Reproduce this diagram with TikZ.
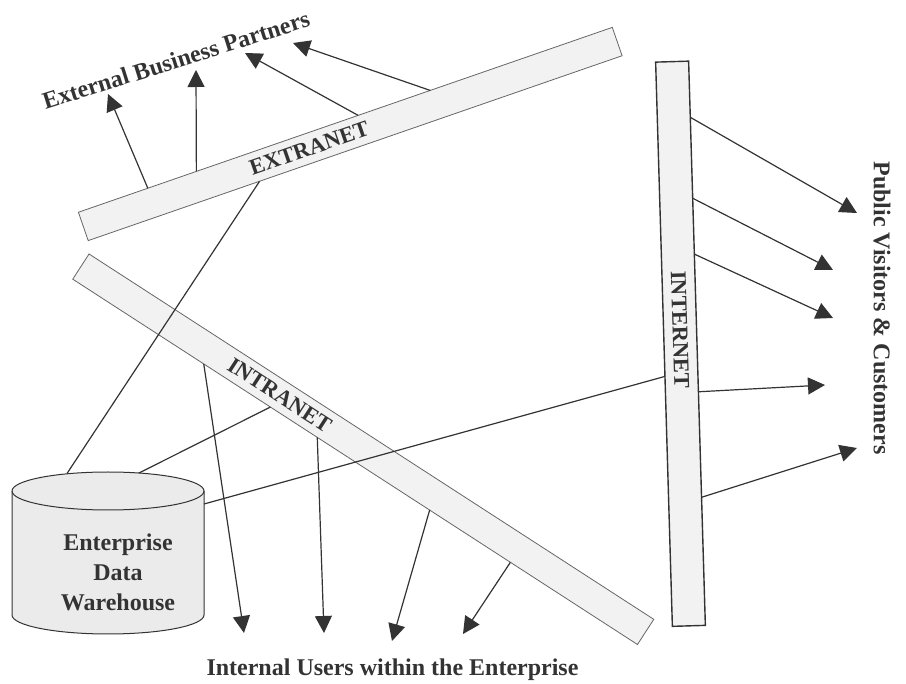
\documentclass[tikz,border=0pt]{standalone}
\usepackage{fontspec}
\setmainfont{Liberation Serif}
\usetikzlibrary{arrows.meta,calc}
\definecolor{ink}{HTML}{333333}
\definecolor{barfill}{HTML}{F2F2F2}
\definecolor{dbfill}{HTML}{EBEBEB}
\tikzset{
  bar/.style={draw=ink!75, fill=barfill, line width=0.8pt, inner sep=0pt, outer sep=0pt, minimum height=30pt},
  db/.style={inner sep=0pt, outer sep=0pt, minimum width=192pt, minimum height=124pt},
  dbline/.style={draw=ink, line width=1pt},
  dbend/.style={x radius=96pt, y radius=19pt},
  barlabel/.style={font=\bfseries\fontsize{22.5}{27}\selectfont, text=ink},
  group/.style={font=\bfseries\fontsize{24}{30}\selectfont, text=ink, align=center},
  link/.style={draw=ink, line width=1.2pt},
  flow/.style={link, -{Triangle[length=17pt,width=17pt]}}
}

\begin{document}
\begin{tikzpicture}[x=1pt, y=-1pt]
  \useasboundingbox (0,0) rectangle (906,684);
  \node[bar, rotate=19.1,  minimum width=565pt]   (ext)   at (350.25,134)    {};
  \node[bar, rotate=-32.9, minimum width=672.6pt] (intra) at (363.25,449.25) {};
  \node[bar, rotate=-88.3, minimum width=564.5pt, minimum height=33pt, draw=ink, line width=1.4pt] (inet) at (680.5,343.75) {};
  \node[db] (edw) at (108,553) {};
  \draw[dbline, fill=dbfill] (edw.north west) -- (edw.south west)
    arc[start angle=180, end angle=360, dbend] -- (edw.north east)
    arc[start angle=0, end angle=180, dbend] -- cycle;
  \draw[dbline] (edw.north west) arc[start angle=180, end angle=360, dbend];

  \node[barlabel, rotate=19.1]  (extl)   at ($(ext.west)!0.423!(ext.east)$)     {EXTRANET};
  \node[barlabel, rotate=-32.9] (intral) at ($(intra.west)!0.352!(intra.east)$) {INTRANET};
  \node[barlabel, rotate=-88.3] (inetl)  at ($(inet.west)!0.475!(inet.east)$)   {INTERNET};
  \node[group] (edwl) at (118,572) {Enterprise\\Data\\Warehouse};

  \node[group, rotate=17.5] (ebp) at (176,60)    {External Business Partners};
  \node[group]              (ieu) at (392.5,670) {Internal Users within the Enterprise};
  \node[group, rotate=-90]  (pvc) at (882,308)   {Public Visitors \& Customers};

  \coordinate (ebp1) at (108,94);
  \coordinate (ebp2) at (196,70);
  \coordinate (ebp3) at (245,53);
  \coordinate (ebp4) at (293,43);
  \coordinate (ieu1) at (244,633);
  \coordinate (ieu2) at (324,633);
  \coordinate (ieu3) at (392,641);
  \coordinate (ieu4) at (463,634);
  \coordinate (pvc1) at (857,213);
  \coordinate (pvc2) at (833,270);
  \coordinate (pvc3) at (833,318);
  \coordinate (pvc4) at (825,385);
  \coordinate (pvc5) at (857,448);

  \draw[link] ($(edw.north)+(-41,-17.5)$) -- ($(ext.south west)!0.321!(ext.south east)$);
  \draw[link] ($(edw.north)+(31,-18)$)    -- ($(intra.south west)!0.35!(intra.south east)$);
  \draw[link] ($(edw.north east)+(0,13)$) -- ($(inet.south west)!0.557!(inet.south east)$);

  \draw[flow] ($(ext.north west)!0.13!(ext.north east)$)  -- (ebp1);
  \draw[flow] ($(ext.north west)!0.221!(ext.north east)$) -- (ebp2);
  \draw[flow] ($(ext.north west)!0.524!(ext.north east)$) -- (ebp3);
  \draw[flow] ($(ext.north west)!0.659!(ext.north east)$) -- (ebp4);

  \draw[flow] ($(intra.south west)!0.232!(intra.south east)$) -- (ieu1);
  \draw[flow] ($(intra.south west)!0.433!(intra.south east)$) -- (ieu2);
  \draw[flow] ($(intra.south west)!0.632!(intra.south east)$) -- (ieu3);
  \draw[flow] ($(intra.south west)!0.775!(intra.south east)$) -- (ieu4);

  \draw[flow] ($(inet.north west)!0.0995!(inet.north east)$) -- (pvc1);
  \draw[flow] ($(inet.north west)!0.243!(inet.north east)$)  -- (pvc2);
  \draw[flow] ($(inet.north west)!0.342!(inet.north east)$)  -- (pvc3);
  \draw[flow] ($(inet.north west)!0.586!(inet.north east)$)  -- (pvc4);
  \draw[flow] ($(inet.north west)!0.773!(inet.north east)$)  -- (pvc5);
\end{tikzpicture}
\end{document}
